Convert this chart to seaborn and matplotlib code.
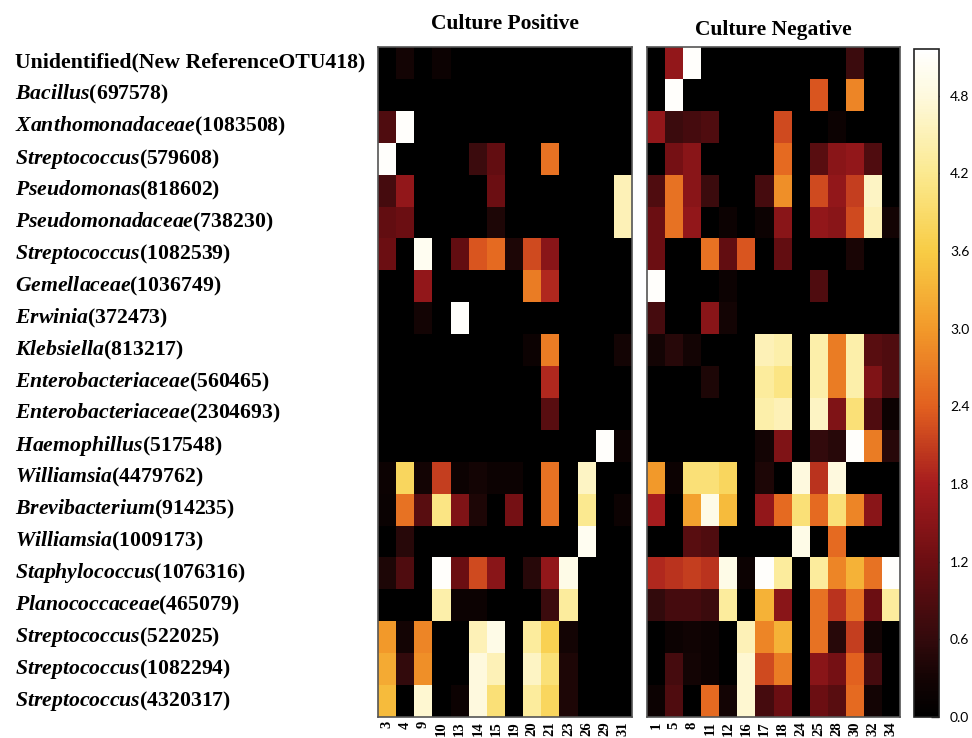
import numpy as np
import pandas as pd
import matplotlib
matplotlib.use("Agg")
import matplotlib.pyplot as plt
import seaborn as sns
from matplotlib.colors import LinearSegmentedColormap

# ---------------- data ----------------
genus = ["Unidentified", "Bacillus", "Xanthomonadaceae", "Streptococcus", "Pseudomonas",
         "Pseudomonadaceae", "Streptococcus", "Gemellaceae", "Erwinia", "Klebsiella",
         "Enterobacteriaceae", "Enterobacteriaceae", "Haemophillus", "Williamsia",
         "Brevibacterium", "Williamsia", "Staphylococcus", "Planococcaceae",
         "Streptococcus", "Streptococcus", "Streptococcus"]
otu_ids = ["New ReferenceOTU418", "697578", "1083508", "579608", "818602", "738230",
           "1082539", "1036749", "372473", "813217", "560465", "2304693", "517548",
           "4479762", "914235", "1009173", "1076316", "465079", "522025", "1082294",
           "4320317"]

pos_cols = ["3", "4", "9", "10", "13", "14", "15", "19", "20", "21", "23", "26", "29", "31"]
neg_cols = ["1", "5", "8", "11", "12", "16", "17", "18", "24", "25", "28", "30", "32", "34"]

pos_values = [
    [0, 0.3, 0, 0.2, 0, 0, 0, 0, 0, 0, 0, 0, 0, 0],
    [0, 0, 0, 0, 0, 0, 0, 0, 0, 0, 0, 0, 0, 0],
    [0.9, 5.1, 0, 0, 0, 0, 0, 0, 0, 0, 0, 0, 0, 0],
    [5.1, 0, 0, 0, 0, 0.7, 1.1, 0, 0, 2.6, 0, 0, 0, 0],
    [0.8, 1.6, 0, 0, 0, 0, 1.2, 0, 0, 0, 0, 0, 0, 4.5],
    [1.1, 1.2, 0, 0, 0, 0, 0.4, 0, 0, 0, 0, 0, 0, 4.5],
    [1.2, 0, 5.0, 0, 1.1, 2.3, 2.5, 0.4, 2.2, 1.5, 0, 0, 0, 0],
    [0, 0, 1.6, 0, 0, 0, 0, 0, 2.7, 1.9, 0, 0, 0, 0],
    [0, 0, 0.3, 0, 5.1, 0, 0, 0, 0, 0, 0, 0, 0, 0],
    [0, 0, 0, 0, 0, 0, 0, 0, 0.2, 2.7, 0, 0, 0, 0.3],
    [0, 0, 0, 0, 0, 0, 0, 0, 0, 1.9, 0, 0, 0, 0],
    [0, 0, 0, 0, 0, 0, 0, 0, 0, 1.0, 0, 0, 0, 0],
    [0, 0, 0, 0, 0, 0, 0, 0, 0, 0, 0, 0, 5.1, 0.2],
    [0.2, 3.8, 0.3, 2.1, 0.2, 0.3, 0.2, 0.2, 0, 2.6, 0, 4.6, 0, 0],
    [0.15, 2.6, 1.0, 4.1, 1.4, 0.4, 0, 1.3, 0, 2.6, 0, 4.2, 0, 0.2],
    [0, 0.5, 0, 0, 0, 0, 0, 0, 0, 0, 0, 5.0, 0, 0],
    [0.4, 0.9, 0, 5.1, 1.2, 2.2, 1.5, 0, 0.5, 1.6, 4.9, 0, 0, 0],
    [0, 0, 0, 4.4, 0.2, 0.2, 0, 0, 0, 0.7, 4.3, 0, 0, 0],
    [3.0, 0.3, 2.8, 0, 0, 4.5, 4.9, 0, 4.3, 3.7, 0.3, 0, 0, 0],
    [3.2, 0.6, 2.9, 0, 0, 4.8, 4.5, 0, 4.6, 4.0, 0.4, 0, 0, 0],
    [3.4, 0, 4.7, 0, 0.2, 4.8, 4.0, 0, 4.3, 3.8, 0.4, 0, 0, 0],
]

neg_values = [
    [0, 1.6, 5.1, 0, 0, 0, 0, 0, 0, 0, 0, 0.7, 0, 0],
    [0, 5.1, 0, 0, 0, 0, 0, 0, 0, 2.3, 0, 2.8, 0, 0],
    [1.6, 0.7, 0.8, 0.9, 0, 0, 0, 2.2, 0, 0, 0.2, 0, 0, 0],
    [0, 1.3, 1.5, 0, 0, 0, 0, 2.5, 0, 1.0, 1.5, 1.6, 0.9, 0],
    [0.9, 2.6, 1.5, 0.7, 0, 0, 0.8, 2.9, 0, 2.2, 1.6, 2.1, 4.6, 0],
    [1.2, 2.6, 1.6, 0, 0.2, 0, 0.2, 1.5, 0, 1.6, 1.5, 2.2, 4.5, 0.3],
    [1.2, 0, 0, 2.6, 1.1, 2.3, 0, 1.1, 0, 0, 0, 0.35, 0, 0],
    [5.1, 0, 0, 0, 0.2, 0, 0, 0, 0, 0.9, 0, 0, 0, 0],
    [0.8, 0, 0, 1.5, 0.3, 0, 0, 0, 0, 0, 0, 0, 0, 0],
    [0.3, 0.5, 0.3, 0, 0, 0, 4.5, 4.4, 0, 4.4, 2.7, 4.4, 1.0, 0.9],
    [0, 0, 0, 0.4, 0, 0, 4.3, 4.1, 0, 4.4, 2.7, 4.4, 1.4, 0.9],
    [0, 0, 0, 0, 0, 0, 4.4, 4.5, 0, 4.6, 1.4, 4.0, 0.9, 0.2],
    [0, 0, 0, 0, 0, 0, 0.3, 1.4, 0, 0.6, 0.5, 5.1, 2.7, 0.5],
    [3.0, 0.2, 4.0, 4.0, 3.8, 0, 0.4, 0, 4.8, 2.0, 4.8, 0, 0, 0],
    [1.8, 0, 3.1, 4.9, 3.4, 0, 1.6, 2.5, 4.0, 2.5, 4.0, 2.8, 1.5, 0],
    [0, 0, 1.0, 0.9, 0, 0, 0, 0, 4.9, 0, 2.5, 0, 0, 0],
    [1.9, 2.0, 2.1, 2.0, 4.9, 0.2, 5.1, 4.3, 0, 4.3, 2.8, 3.3, 2.6, 5.1],
    [0.6, 0.8, 0.8, 0.7, 4.3, 0, 3.3, 1.5, 0, 2.6, 2.0, 2.6, 1.2, 4.3],
    [0, 0.2, 0.25, 0.2, 0, 4.5, 2.8, 3.3, 0, 2.6, 0.5, 2.1, 0.3, 0],
    [0, 0.8, 0.3, 0.2, 0, 4.7, 2.2, 2.7, 0, 1.5, 1.3, 2.4, 0.8, 0],
    [0.2, 0.9, 0, 2.5, 0.3, 4.7, 0.8, 1.2, 0, 1.2, 1.0, 2.5, 0.3, 0],
]

cbar_ticks = [0.0, 0.6, 1.2, 1.8, 2.4, 3.0, 3.6, 4.2, 4.8]
vmin, vmax = 0.0, 5.16

# ---------------- style ----------------
sns.set_theme(style="white")
plt.rcParams["font.family"] = ["Liberation Serif", "DejaVu Serif"]
plt.rcParams["text.color"] = "black"
plt.rcParams["axes.labelcolor"] = "black"
plt.rcParams["xtick.color"] = "black"
plt.rcParams["ytick.color"] = "black"
plt.rcParams["mathtext.fontset"] = "custom"
plt.rcParams["mathtext.it"] = "Liberation Serif:italic:bold"
plt.rcParams["mathtext.rm"] = "Liberation Serif:bold"
plt.rcParams["mathtext.bf"] = "Liberation Serif:bold"

cmap = LinearSegmentedColormap.from_list("heat", [
    (0.00, "#000000"),
    (0.06, "#150404"),
    (0.116, "#330a0c"),
    (0.233, "#6c0e12"),
    (0.349, "#a61c1e"),
    (0.465, "#e2601f"),
    (0.581, "#f2992a"),
    (0.698, "#f8cc45"),
    (0.814, "#fbe98f"),
    (0.930, "#fef9dc"),
    (1.00, "#ffffff"),
])

labels = [("$\\mathit{%s}$(%s)" % (g, o)) if g != "Unidentified" else "%s(%s)" % (g, o)
          for g, o in zip(genus, otu_ids)]

pos_df = pd.DataFrame(pos_values, index=labels, columns=pos_cols)
neg_df = pd.DataFrame(neg_values, index=labels, columns=neg_cols)

W, H = 972, 738
fig = plt.figure(figsize=(W / 100, H / 100), dpi=100)

def rect(x0, y0, x1, y1):
    return [x0 / W, 1 - y1 / H, (x1 - x0) / W, (y1 - y0) / H]

ax1 = fig.add_axes(rect(378, 47, 632, 717))
ax2 = fig.add_axes(rect(647, 47, 900, 717))
cax = fig.add_axes(rect(914, 49, 939, 717))

sns.heatmap(pos_df, ax=ax1, cmap=cmap, vmin=vmin, vmax=vmax, cbar=False,
            xticklabels=True, yticklabels=True)
sns.heatmap(neg_df, ax=ax2, cmap=cmap, vmin=vmin, vmax=vmax, cbar=True, cbar_ax=cax,
            xticklabels=True, yticklabels=False)

for ax in (ax1, ax2):
    for s in ax.spines.values():
        s.set_visible(True)
        s.set_color("#555555")
        s.set_linewidth(1.2)
    ax.tick_params(axis="x", length=0, pad=3, colors="black")
    for t in ax.get_xticklabels():
        t.set_rotation(90)
        t.set_fontweight("bold")
        t.set_fontsize(10.5)
        t.set_color("black")
        t.set_family(["Liberation Serif"])
    ax.set_xlabel("")
    ax.set_ylabel("")

# row labels, left aligned near the figure edge
ax1.tick_params(axis="y", length=0, pad=(378 - 15) * 0.72, colors="black")
for t in ax1.get_yticklabels():
    t.set_rotation(0)
    t.set_horizontalalignment("left")
    t.set_fontweight("bold")
    t.set_fontsize(15.7)
    t.set_color("black")

ax1.set_title("Culture Positive", fontsize=15.5, fontweight="bold", pad=13, color="black")
ax2.set_title("Culture Negative", fontsize=15.5, fontweight="bold", pad=9, color="black")

# colorbar
cb = ax2.collections[0].colorbar
cb.set_ticks(cbar_ticks)
cb.set_ticklabels(["%.1f" % v for v in cbar_ticks])
cb.outline.set_visible(True)
cb.outline.set_edgecolor("#222222")
cb.outline.set_linewidth(1.2)
cax.tick_params(axis="y", direction="in", length=6, width=1, color="#333333",
                labelsize=10, pad=8, labelcolor="black")
for t in cax.get_yticklabels():
    t.set_family(["Lato", "DejaVu Sans"])

fig.savefig("out.png", dpi=100)
